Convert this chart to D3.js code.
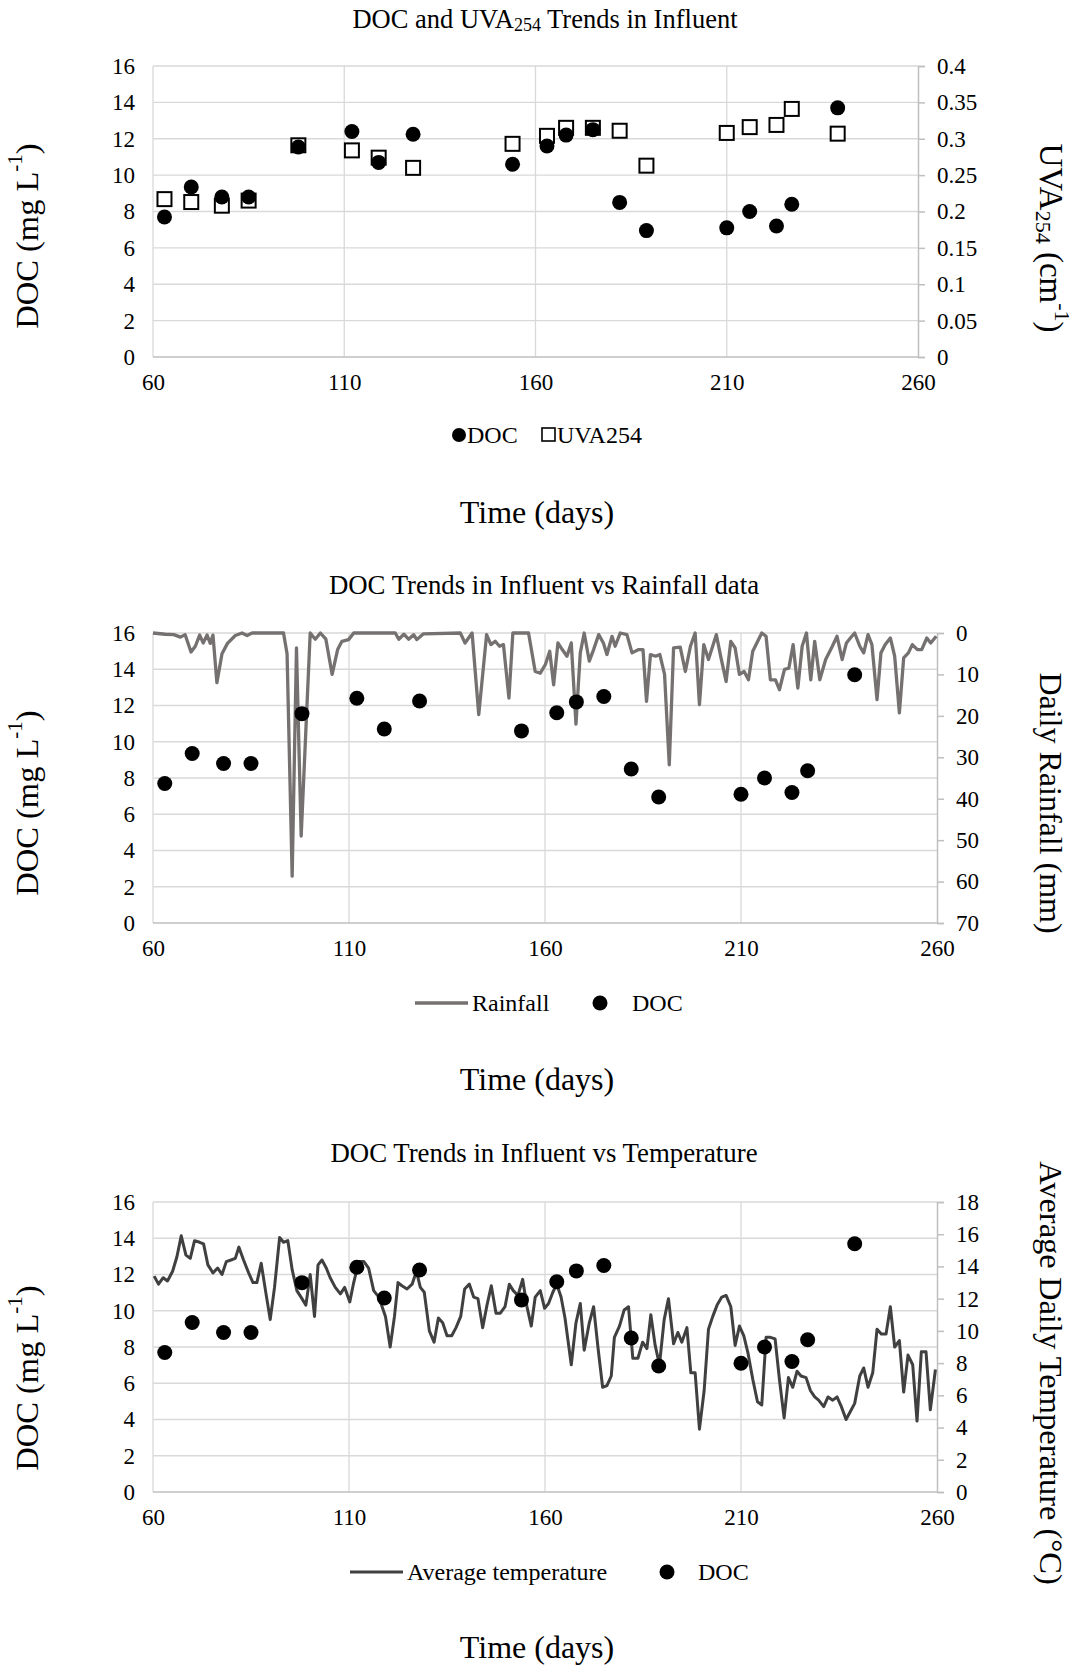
<!DOCTYPE html>
<html><head><meta charset="utf-8">
<script src="https://cdn.jsdelivr.net/npm/d3@7"></script>
<style>
body{margin:0;background:#fff}
</style>
</head><body>
<svg id="c" width="1078" height="1666"></svg>
<script>
// ---------- data ----------
const xTicks = [60, 110, 160, 210, 260];
const docTicks = [0, 2, 4, 6, 8, 10, 12, 14, 16];
const uvaTicks = [0, 0.05, 0.1, 0.15, 0.2, 0.25, 0.3, 0.35, 0.4];
const rainTicks = [0, 10, 20, 30, 40, 50, 60, 70];
const tempTicks = [0, 2, 4, 6, 8, 10, 12, 14, 16, 18];

const sampleDays = [63, 70, 78, 85, 98, 112, 119, 128, 154, 163, 168, 175, 182, 189, 210, 216, 223, 227, 239];
const docValues = [7.7, 9.35, 8.8, 8.8, 11.55, 12.4, 10.7, 12.25, 10.6, 11.6, 12.2, 12.5, 8.5, 6.95, 7.1, 8.0, 7.2, 8.4, 13.7];
const uva254Values = [0.217, 0.213, 0.208, 0.215, 0.291, 0.284, 0.274, 0.26, 0.293, 0.304, 0.315, 0.315, 0.311, 0.263, 0.308, 0.316, 0.319, 0.341, 0.307];

const rainDays = [60,63.1,65.3,67,68.2,69.7,70.8,71.9,72.8,73.8,74.6,75.3,76.3,77.6,79,81,82.7,84,85.3,93.3,94.2,95.5,96.6,97.8,100.1,101.4,102.7,104.1,105.7,107.1,108.2,109.9,111.2,121.8,122.7,124,125.2,126.5,
127.3,129,138.4,139.6,141.4,143.1,145.1,146.2,147.3,148.4,149.4,150.8,151.8,155.8,157.5,158.8,160.1,161.2,162.2,163.3,164.4,165.6,166.7,167.9,169,170,171.3,172.4,173.7,174.9,175.8,177.1,177.9,179.2,180.9,182.2,183.9,185,185.9,186.9,188.2,189.3,190.5,191.7,192.8,194.5,
195.8,197.1,198.3,199.4,200.5,201.7,203.7,204.9,206.2,207.4,208.5,209.6,210.8,211.9,213,215.3,216.4,217.5,218.8,219.8,221.1,222.2,223.3,224.5,225.6,226.7,227.8,228.8,230.1,231.6,233.3,234.5,235.8,236.9,237.9,239,240.3,241.3,242.4,243.4,244.7,245.7,246.8,248.1,249.2,250.4,251.5,252.7,253.7,255,256.1,257.4,258.4,259.8];
const rainMm = [0,0.3,0.4,1,0.4,4.6,3.2,0.5,2.4,0.5,2.5,0.5,12,5,2.5,0.6,0,0.6,0,0,5,58.7,3.6,49,0,1.5,0,1.5,10,4,2,1.6,0,0,1.5,0.3,1.5,0.4,
1.6,0.2,0,2.4,0,19.7,0.4,2.8,2,3.2,2.8,15.7,0,0,9.3,9.7,7.6,4.4,12.5,2.4,4,5.6,2.4,22,4.8,0,6.8,4,0.4,2.4,5.2,0.8,3.2,0,0.4,4.8,4,4,16.5,5.2,5.6,5.2,10,31.8,3.6,3.4,
9.3,3.2,0,17.3,2.8,6.4,0.4,6,11.7,2,3.6,10,9.3,11.3,4.4,0,0.8,11.3,11.3,13.7,8.8,8.5,2.8,13.3,3.2,0,11.3,2,11.3,6.4,3.2,0.8,6.4,2.4,1.2,0,3.2,4.8,0.4,2.8,16.1,4.8,2.8,1.2,5.6,19.3,6,4.8,2.8,4,4,1.2,2.4,0.8];

const tempDays = [60.3,61.4,62.6,63.7,65,66.1,67.2,68.4,69.5,70.6,71.9,72.9,74,75.3,76.5,77.6,78.7,79.9,81,81.9,83.1,84.4,85.5,86.5,87.6,88.7,89.9,91,92.3,93.3,94.4,95.5,96.7,98,99,100.1,101.2,102.1,103.1,104.2,105.2,106.5,107.8,108.9,110.2,111.2,112.5,113.8,115,116.3,117.6,119.3,120.5,121.6,122.5,123.5,124.8,126.1,127.2,128.2,
129.2,130.5,131.7,132.8,133.9,135,136.2,137.3,138.5,139.5,140.7,141.8,142.9,144.1,145.2,146.3,147.5,148.6,149.8,150.9,151.9,153.1,154.3,155.4,156.5,157.5,158.8,159.9,160.9,162,163,164.1,165.1,166.7,167.9,169,170,171.3,172.4,173.5,174.7,175.8,176.9,177.7,179,180.2,181.3,182.4,183.7,184.9,186,187,188.1,189.2,190.4,191.5,192.8,193.9,194.9,
196.2,197.2,198.3,199.4,200.6,201.7,202.8,203.9,205.1,206.2,207.4,208.5,209.6,210.7,211.8,213,214.2,215.3,216.4,217.5,218.7,219.8,221,222.1,223.2,224.3,225.3,226.6,227.7,228.8,229.8,231.1,232.2,233.4,234.5,235.6,236.8,237.9,239,240.3,241.3,242.4,243.6,244.7,245.8,247,248.1,249.2,250.4,251.5,252.6,253.8,254.9,256,257.2,258.3,259.6];
const tempC = [13.4,12.9,13.3,13.1,13.7,14.6,15.9,14.7,14.5,15.6,15.5,15.4,14.1,13.6,13.9,13.5,14.3,14.4,14.5,15.2,14.4,13.6,13.0,13.0,14.2,12.5,10.7,12.7,15.8,15.5,15.6,13.8,12.5,12.0,11.6,13.5,10.9,14.1,14.4,13.9,13.3,12.7,12.3,12.7,11.8,13.0,14.3,14.3,13.9,12.5,12.1,10.9,9.0,10.9,13.0,12.8,12.6,12.9,13.7,12.7,
12.4,10.0,9.3,10.8,10.5,9.7,9.7,10.2,10.9,12.6,12.9,12.1,12.0,10.2,11.6,12.8,11.1,11.1,11.5,12.9,12.5,12.2,13.2,11.5,10.3,12.1,12.5,11.4,11.7,12.4,12.9,12.1,10.8,7.9,10.5,11.7,8.8,10.5,11.5,9.0,6.5,6.6,7.2,9.6,10.3,11.3,11.5,8.3,8.3,9.3,8.9,11.0,9.1,7.9,10.7,12.0,9.2,9.9,9.3,
10.2,7.4,7.4,3.9,6.3,10.1,10.9,11.6,12.1,12.2,11.5,9.1,10.3,9.7,8.6,7.0,5.6,5.4,9.6,9.6,9.5,7.0,4.6,7.1,6.5,7.5,7.2,7.1,6.3,5.9,5.7,5.3,5.9,5.7,5.9,5.3,4.5,5.0,5.5,7.2,7.7,6.5,7.4,10.1,9.8,9.8,11.5,9.0,9.4,6.2,8.5,7.9,4.4,8.7,8.7,5.1,7.6];

// ---------- drawing ----------
const FONT = '"Liberation Serif", "Times New Roman", Times, serif';
const svg = d3.select("#c");
svg.append("rect").attr("width",1078).attr("height",1666).attr("fill","#fff");
const GRID = "#d9d9d9", AXIS = "#bfbfbf";
const fmtUva = d => d === 0 ? "0" : String(+d.toFixed(2));

function panel(o) {
  const g = svg.append("g");
  const x = d3.scaleLinear().domain([60, 260]).range([o.x0, o.x1]);
  const yL = d3.scaleLinear().domain([0, 16]).range([o.y1, o.y0]);
  const yR = d3.scaleLinear().domain(o.rDomain).range(o.rRange);

  g.selectAll(".hg").data(docTicks.slice(1)).join("line")
    .attr("x1", o.x0).attr("x2", o.x1).attr("y1", d => yL(d)).attr("y2", d => yL(d))
    .attr("stroke", GRID).attr("stroke-width", 1.3);
  g.selectAll(".vg").data(xTicks.slice(0, -1)).join("line")
    .attr("x1", d => x(d)).attr("x2", d => x(d)).attr("y1", o.y0).attr("y2", o.y1)
    .attr("stroke", GRID).attr("stroke-width", 1.3);
  g.append("line").attr("x1", o.x0).attr("x2", o.x1).attr("y1", o.y1).attr("y2", o.y1)
    .attr("stroke", AXIS).attr("stroke-width", 1.5);

  const ra = g.append("g").attr("transform", `translate(${o.x1},0)`)
    .call(d3.axisRight(yR).tickValues(o.rTicks).tickSize(7).tickPadding(12).tickFormat(o.rFmt || (d => d)));
  ra.select(".domain").attr("stroke", AXIS).attr("stroke-width", 1.5);
  ra.selectAll(".tick line").attr("stroke", AXIS).attr("stroke-width", 1.5);

  const la = g.append("g").attr("transform", `translate(${o.x0},0)`)
    .call(d3.axisLeft(yL).tickValues(docTicks).tickSize(0).tickPadding(18));
  la.select(".domain").remove();

  const ba = g.append("g").attr("transform", `translate(0,${o.y1})`)
    .call(d3.axisBottom(x).tickValues(xTicks).tickSize(0).tickPadding(17));
  ba.select(".domain").remove();

  [ra, la, ba].forEach(a => {
    a.attr("font-family", FONT).attr("font-size", 23);
    a.selectAll(".tick text").attr("fill", "#000");
  });
  return {g, x, yL, yR};
}

function supText(sel, parts) {
  parts.forEach(p => {
    const t = sel.append("tspan").text(p.t);
    if (p.s) t.attr("font-size", p.s);
    if (p.dy) t.attr("dy", p.dy);
  });
}

function leftTitle(cy) {
  const t = svg.append("text").attr("transform", `translate(27,${cy}) rotate(-90)`)
    .attr("text-anchor", "middle").attr("dominant-baseline", "central").attr("font-size", 32.5);
  supText(t, [{t: "DOC (mg L"}, {t: "-1", s: 21, dy: -12}, {t: ")", dy: 12}]);
}

function drawDots(p) {
  p.g.selectAll(".doc").data(sampleDays).join("circle")
    .attr("cx", d => p.x(d)).attr("cy", (d, i) => p.yL(docValues[i])).attr("r", 7.5).attr("fill", "#000");
}

function centerText(txt, x, y, size) {
  return svg.append("text").attr("x", x).attr("y", y).attr("text-anchor", "middle")
    .attr("dominant-baseline", "central").attr("font-size", size).text(txt);
}

// ===== Chart 1 =====
{
  const t = svg.append("text").attr("x", 545).attr("y", 19).attr("text-anchor", "middle")
    .attr("dominant-baseline", "central").attr("font-size", 26.5);
  supText(t, [{t: "DOC and UVA"}, {t: "254", s: 18, dy: 6}, {t: " Trends in Influent", dy: -6}]);

  const p = panel({x0: 153, x1: 918, y0: 66, y1: 357, rDomain: [0, 0.4], rRange: [357, 66], rTicks: uvaTicks, rFmt: fmtUva});
  p.g.selectAll(".uva").data(sampleDays).join("rect")
    .attr("x", d => p.x(d) - 7).attr("y", (d, i) => p.yR(uva254Values[i]) - 7)
    .attr("width", 14).attr("height", 14).attr("fill", "#fff").attr("stroke", "#000").attr("stroke-width", 2);
  drawDots(p);

  svg.append("circle").attr("cx", 459).attr("cy", 435).attr("r", 7).attr("fill", "#000");
  svg.append("text").attr("x", 467).attr("y", 435).attr("dominant-baseline", "central").attr("font-size", 24).text("DOC");
  svg.append("rect").attr("x", 542).attr("y", 428).attr("width", 13).attr("height", 13).attr("fill", "#fff").attr("stroke", "#000").attr("stroke-width", 1.6);
  svg.append("text").attr("x", 557).attr("y", 435).attr("dominant-baseline", "central").attr("font-size", 24).text("UVA254");

  centerText("Time (days)", 537, 512, 32);
  leftTitle(236);
  const r = svg.append("text").attr("transform", "translate(1051,238) rotate(90)")
    .attr("text-anchor", "middle").attr("dominant-baseline", "central").attr("font-size", 33);
  supText(r, [{t: "UVA"}, {t: "254", s: 22, dy: 7}, {t: " (cm", dy: -7}, {t: "-1", s: 22, dy: -12}, {t: ")", dy: 12}]);
}

// ===== Chart 2 =====
{
  centerText("DOC Trends in Influent vs Rainfall data", 544, 585, 26.8);
  const p = panel({x0: 153, x1: 937, y0: 633, y1: 923, rDomain: [0, 70], rRange: [633, 923], rTicks: rainTicks});
  const line = d3.line().x((d, i) => p.x(rainDays[i])).y((d, i) => p.yR(rainMm[i]));
  p.g.append("path").attr("d", line(rainDays)).attr("fill", "none").attr("stroke", "#767171")
    .attr("stroke-width", 3.3).attr("stroke-linejoin", "round");
  drawDots(p);

  svg.append("line").attr("x1", 415).attr("x2", 468).attr("y1", 1003).attr("y2", 1003).attr("stroke", "#767171").attr("stroke-width", 3.3);
  svg.append("text").attr("x", 472).attr("y", 1003).attr("dominant-baseline", "central").attr("font-size", 24).text("Rainfall");
  svg.append("circle").attr("cx", 600).attr("cy", 1003).attr("r", 7.5).attr("fill", "#000");
  svg.append("text").attr("x", 632).attr("y", 1003).attr("dominant-baseline", "central").attr("font-size", 24).text("DOC");

  centerText("Time (days)", 537, 1079, 32);
  leftTitle(803);
  svg.append("text").attr("transform", "translate(1051,803) rotate(90)").attr("text-anchor", "middle")
    .attr("dominant-baseline", "central").attr("font-size", 32).text("Daily Rainfall (mm)");
}

// ===== Chart 3 =====
{
  centerText("DOC Trends in Influent vs Temperature", 544, 1153, 26.8);
  const p = panel({x0: 153, x1: 937, y0: 1202, y1: 1492, rDomain: [0, 18], rRange: [1492, 1202], rTicks: tempTicks});
  const line = d3.line().x((d, i) => p.x(tempDays[i])).y((d, i) => p.yR(tempC[i]));
  p.g.append("path").attr("d", line(tempDays)).attr("fill", "none").attr("stroke", "#404040")
    .attr("stroke-width", 3).attr("stroke-linejoin", "round");
  drawDots(p);

  svg.append("line").attr("x1", 350).attr("x2", 403).attr("y1", 1572).attr("y2", 1572).attr("stroke", "#404040").attr("stroke-width", 3);
  svg.append("text").attr("x", 407).attr("y", 1572).attr("dominant-baseline", "central").attr("font-size", 24).text("Average temperature");
  svg.append("circle").attr("cx", 667).attr("cy", 1572).attr("r", 7.5).attr("fill", "#000");
  svg.append("text").attr("x", 698).attr("y", 1572).attr("dominant-baseline", "central").attr("font-size", 24).text("DOC");

  centerText("Time (days)", 537, 1647, 32);
  leftTitle(1378);
  svg.append("text").attr("transform", "translate(1051,1373) rotate(90)").attr("text-anchor", "middle")
    .attr("dominant-baseline", "central").attr("font-size", 32.5).text("Average Daily Temperature (°C)");
}

// force serif font on every text element
svg.selectAll("text").style("font-family", FONT).style("fill", "#000");
</script>
</body></html>
